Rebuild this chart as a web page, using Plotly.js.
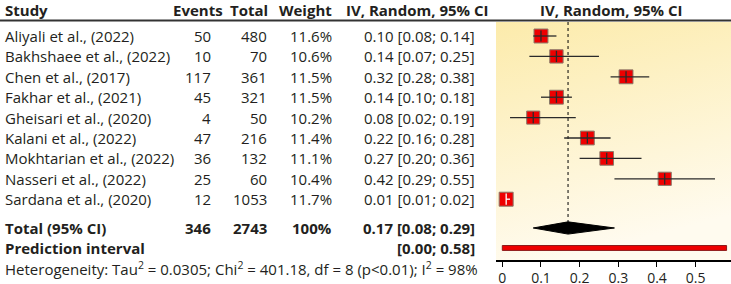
<!DOCTYPE html>
<html><head><meta charset="utf-8">
<script src="https://cdn.plot.ly/plotly-3.0.1.min.js"></script>
<style>html,body{margin:0;padding:0;background:#fff}</style>
</head><body><div id="chart" style="width:731px;height:284px"></div>
<script>
// ---- data ----
const studies = ["Aliyali et al., (2022)","Bakhshaee et al., (2022)","Chen et al., (2017)","Fakhar et al., (2021)","Gheisari et al., (2020)","Kalani et al., (2022)","Mokhtarian et al., (2022)","Nasseri et al., (2022)","Sardana et al., (2020)"];
const events = [50,10,117,45,4,47,36,25,12];
const totals = [480,70,361,321,50,216,132,60,1053];
const weights = [11.6,10.6,11.5,11.5,10.2,11.4,11.1,10.4,11.7];
const est = [0.10,0.14,0.32,0.14,0.08,0.22,0.27,0.42,0.01];
const lower = [0.08,0.07,0.28,0.10,0.02,0.16,0.20,0.29,0.01];
const upper = [0.14,0.25,0.38,0.18,0.19,0.28,0.36,0.55,0.02];
const pooled = {events:346, total:2743, weight:"100%", est:0.17, lower:0.08, upper:0.29};
const predInt = [0.00, 0.58];
const heterogeneity = "Heterogeneity: Tau<sup>2</sup> = 0.0305; Chi<sup>2</sup> = 401.18, df = 8 (p&lt;0.01); I<sup>2</sup> = 98%";
const headers = ["Study","Events","Total","Weight","IV, Random, 95% CI","IV, Random, 95% CI"];
const tickVals = [0,0.1,0.2,0.3,0.4,0.5];
const tickText = ["0","0.1","0.2","0.3","0.4","0.5"];

// ---- layout geometry ----
const W=731,H=284;
const plotL=496, plotT=22, plotB=260;
const X0=502.3, PXU=386.7; // pixel of x=0, pixels per unit
const rowY = studies.map((s,i)=>i);
const totalY = 9.41, predY = 10.39;
const yTop=-0.686, yBot=10.98;
const px = v=>v/W, py = v=>(H-v)/H;
const FONT = "Open Sans, sans-serif", FS=15, TXT="#231f20";
const fmt = v=>v.toFixed(2);
const ci = (e,l,u)=>fmt(e)+" ["+fmt(l)+"; "+fmt(u)+"]";

const ann=[];
function cell(text,xp,y,anchor,bold,yref){
  ann.push({text: bold?"<b>"+text+"</b>":text, x:px(xp), xref:"paper", y:y, yref:yref||"y",
    xanchor:anchor, yanchor:"middle", showarrow:false, font:{family:FONT,size:FS,color:TXT}});
}
// headers
const hy = py(10);
cell(headers[0],3,hy,"left",true,"paper");
cell(headers[1],225,hy,"right",true,"paper");
cell(headers[2],270,hy,"right",true,"paper");
cell(headers[3],334,hy,"right",true,"paper");
cell(headers[4],344,hy,"left",true,"paper");
cell(headers[5],611,hy,"center",true,"paper");
studies.forEach((s,i)=>{
  cell(s,3,rowY[i],"left");
  cell(String(events[i]),213,rowY[i],"right");
  cell(String(totals[i]),269,rowY[i],"right");
  cell(weights[i].toFixed(1)+"%",334,rowY[i],"right");
  cell(ci(est[i],lower[i],upper[i]),477,rowY[i],"right");
});
cell("Total (95% CI)",3,totalY,"left",true);
cell(String(pooled.events),213,totalY,"right",true);
cell(String(pooled.total),269,totalY,"right",true);
cell(pooled.weight,334,totalY,"right",true);
cell(ci(pooled.est,pooled.lower,pooled.upper),477,totalY,"right",true);
cell("Prediction interval",3,predY,"left",true);
cell("["+fmt(predInt[0])+"; "+fmt(predInt[1])+"]",477,predY,"right",true);
cell(heterogeneity,3,py(268),"left",false,"paper");

// ---- traces ----
const traces=[];
// dotted pooled line
traces.push({x:[pooled.est,pooled.est], y:[yTop,totalY-0.3], mode:"lines",
  line:{color:"#000",width:1,dash:"dot"}, hoverinfo:"skip"});
// squares
const boxSize = weights.map(w=>14*Math.sqrt(w/11.7));
traces.push({x:est, y:rowY, mode:"markers", type:"scatter",
  marker:{symbol:"square", color:"#ee0000", opacity:1, size:boxSize, line:{color:"#8a7a6a",width:1}},
  hoverinfo:"skip"});
// CI lines (white when the interval lies inside the box)
const inside = est.map((e,i)=>(upper[i]-lower[i])*PXU < boxSize[i]);
function ciTrace(sel,color){
  const xs=[],ys=[],tx=[],ty=[];
  est.forEach((e,i)=>{ if(inside[i]===sel){ xs.push(lower[i],upper[i],null); ys.push(rowY[i],rowY[i],null); tx.push(e); ty.push(rowY[i]); }});
  traces.push({x:xs,y:ys,mode:"lines",line:{color:color,width:1.3},hoverinfo:"skip"});
  traces.push({x:tx,y:ty,mode:"markers",marker:{symbol:"line-ns",size:8,opacity:1,line:{color:color,width:1.3}},hoverinfo:"skip"});
}
ciTrace(false,"#2a2a2a");
ciTrace(true,"#ffffff");
// diamond
const dh=0.3;
traces.push({x:[pooled.lower,pooled.est,pooled.upper,pooled.est,pooled.lower],
  y:[totalY,totalY-dh,totalY,totalY+dh,totalY], mode:"lines", fill:"toself",
  fillcolor:"#000", line:{color:"#000",width:1}, hoverinfo:"skip"});
// prediction interval bar
const ph=0.12;
traces.push({x:[predInt[0],predInt[1],predInt[1],predInt[0],predInt[0]],
  y:[predY-ph,predY-ph,predY+ph,predY+ph,predY-ph], mode:"lines", fill:"toself",
  fillcolor:"#ee0000", line:{color:"#8b1a1a",width:1}, hoverinfo:"skip"});

// background gradient image
const cv=document.createElement("canvas"); cv.width=235; cv.height=238;
const g=cv.getContext("2d"); const gr=g.createLinearGradient(0,0,60,238);
gr.addColorStop(0,"#fcebab"); gr.addColorStop(1,"#fffbef");
g.fillStyle=gr; g.fillRect(0,0,235,238);

const layout={
  width:W,height:H,margin:{l:0,r:0,t:0,b:0},
  paper_bgcolor:"#fff", plot_bgcolor:"rgba(0,0,0,0)", showlegend:false,
  xaxis:{domain:[px(plotL),1], range:[(plotL-X0)/PXU,(W-X0)/PXU], showgrid:false, zeroline:false,
    showline:true, linecolor:"#000", linewidth:1.5, ticks:"outside", ticklen:5, tickwidth:1, tickcolor:"#000",
    tickvals:tickVals, ticktext:tickText, tickfont:{family:FONT,size:14,color:TXT}, fixedrange:true},
  yaxis:{domain:[py(plotB),py(plotT)], range:[yBot,yTop], visible:false, fixedrange:true},
  annotations:ann,
  shapes:[{type:"line",xref:"paper",yref:"paper",x0:0,x1:1,y0:py(20.5),y1:py(20.5),line:{color:"#333",width:2}}],
  images:[{source:cv.toDataURL(), xref:"paper", yref:"paper", x:px(plotL), y:py(plotT), sizex:1-px(plotL), sizey:py(plotT)-py(plotB), sizing:"stretch", layer:"below", xanchor:"left", yanchor:"top"}]
};
Plotly.newPlot("chart",traces,layout,{staticPlot:true,displayModeBar:false});
</script></body></html>
